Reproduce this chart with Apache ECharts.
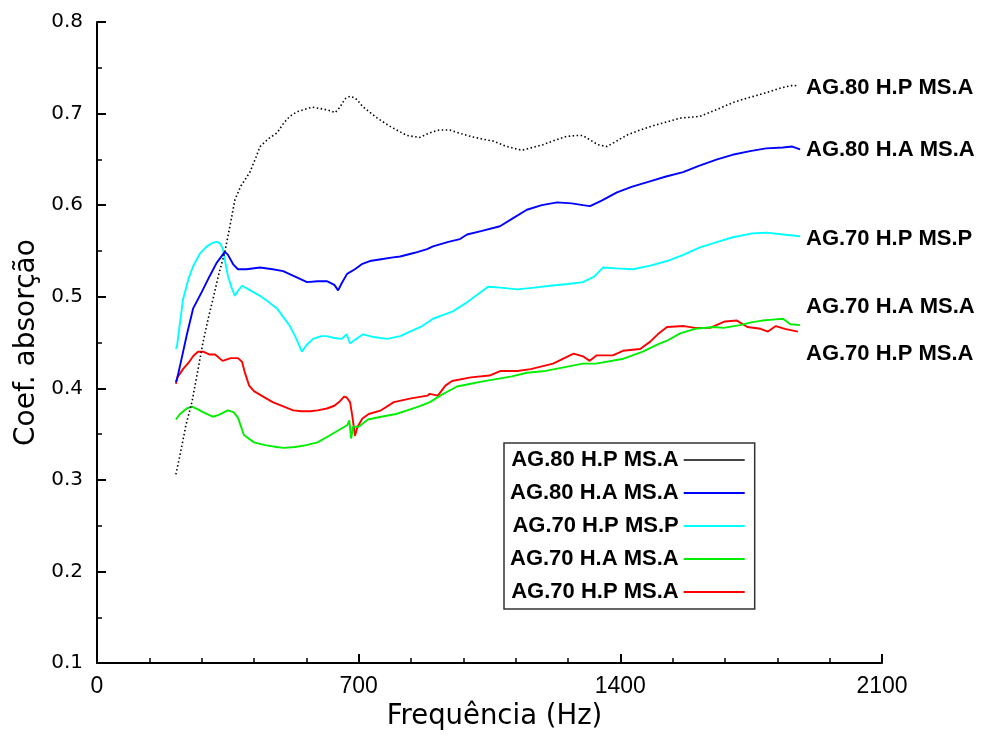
<!DOCTYPE html>
<html>
<head>
<meta charset="utf-8">
<title>Coef. absorção</title>
<script src="https://cdn.jsdelivr.net/npm/echarts@6/dist/echarts.min.js"></script>
<style>
  html, body { margin: 0; padding: 0; background: #fff; }
  #chart { width: 981px; height: 736px; }
</style>
</head>
<body>
<div id="chart"></div>
<script>
// Series names (legend and right-hand labels)
const seriesNames = ['AG.80 H.P MS.A', 'AG.80 H.A MS.A', 'AG.70 H.P MS.P', 'AG.70 H.A MS.A', 'AG.70 H.P MS.A'];
const seriesColors = ['#000000', '#0000ff', '#00ffff', '#00ee00', '#ff0000'];

// Axis ticks
const xTicks = [0, 700, 1400, 2100];
const yTicks = [0.1, 0.2, 0.3, 0.4, 0.5, 0.6, 0.7, 0.8];

// Measured absorption coefficient vs frequency: [Hz, coefficient]
const ag80HP_MSA = [
  [211,0.306],[222,0.327],[238,0.360],[254,0.385],[270,0.420],[284,0.451],[298,0.477],[310,0.497],
  [326,0.525],[342,0.549],[356,0.578],[369,0.606],[385,0.621],[409,0.636],[425,0.652],[436,0.664],
  [460,0.673],[482,0.679],[500,0.690],[516,0.697],[535,0.702],[551,0.704],[575,0.707],[605,0.705],
  [625,0.703],[637,0.701],[650,0.707],[663,0.716],[677,0.719],[690,0.717],[696,0.715],[710,0.708],
  [722,0.704],[750,0.695],[784,0.686],[811,0.680],[830,0.676],[864,0.674],[890,0.679],[915,0.682],
  [944,0.682],[975,0.678],[1000,0.675],[1033,0.672],[1060,0.670],[1090,0.665],[1115,0.662],[1137,0.660],
  [1165,0.663],[1193,0.666],[1225,0.671],[1255,0.675],[1280,0.676],[1300,0.676],[1320,0.671],[1340,0.666],
  [1364,0.664],[1390,0.670],[1420,0.677],[1453,0.682],[1490,0.687],[1525,0.691],[1560,0.695],[1613,0.697],
  [1650,0.703],[1701,0.712],[1740,0.717],[1792,0.723],[1830,0.728],[1862,0.731],[1875,0.730]
];
const ag80HA_MSA = [
  [211,0.407],[214,0.410],[225,0.430],[240,0.458],[257,0.487],[280,0.505],[302,0.523],[320,0.537],
  [342,0.549],[350,0.546],[365,0.535],[377,0.530],[400,0.530],[436,0.532],[470,0.530],[498,0.528],
  [530,0.522],[562,0.516],[590,0.517],[615,0.517],[635,0.513],[645,0.507],[655,0.515],[669,0.525],
  [690,0.530],[710,0.536],[730,0.539],[760,0.541],[792,0.543],[811,0.544],[850,0.548],[883,0.552],
  [899,0.555],[940,0.560],[971,0.563],[990,0.568],[1030,0.572],[1078,0.577],[1110,0.585],[1150,0.595],
  [1190,0.600],[1231,0.603],[1270,0.602],[1300,0.600],[1319,0.599],[1350,0.605],[1391,0.614],[1430,0.620],
  [1479,0.626],[1520,0.631],[1568,0.636],[1610,0.643],[1659,0.650],[1700,0.655],[1747,0.659],[1790,0.662],
  [1835,0.663],[1860,0.664],[1881,0.661]
];
const ag70HP_MSP = [
  [211,0.443],[214,0.446],[230,0.497],[245,0.520],[257,0.533],[275,0.547],[294,0.555],[310,0.559],
  [321,0.560],[330,0.558],[337,0.552],[343,0.538],[350,0.523],[360,0.510],[369,0.501],[378,0.507],
  [388,0.512],[410,0.507],[436,0.501],[460,0.494],[482,0.487],[500,0.477],[516,0.468],[530,0.457],
  [548,0.440],[560,0.447],[578,0.454],[600,0.457],[615,0.457],[635,0.455],[655,0.454],[668,0.459],
  [677,0.449],[690,0.453],[712,0.459],[740,0.456],[776,0.454],[811,0.457],[837,0.462],[870,0.468],
  [899,0.476],[925,0.480],[952,0.484],[990,0.494],[1020,0.503],[1046,0.511],[1080,0.510],[1124,0.508],
  [1170,0.510],[1212,0.512],[1260,0.514],[1300,0.516],[1330,0.522],[1354,0.532],[1390,0.531],[1434,0.530],
  [1480,0.534],[1525,0.539],[1570,0.546],[1613,0.554],[1660,0.560],[1701,0.565],[1750,0.569],[1792,0.570],
  [1835,0.568],[1881,0.566]
];
const ag70HA_MSA = [
  [211,0.366],[222,0.372],[240,0.378],[254,0.380],[270,0.377],[289,0.373],[310,0.369],[326,0.371],
  [350,0.376],[365,0.374],[377,0.368],[393,0.349],[420,0.341],[450,0.338],[480,0.336],[500,0.335],
  [530,0.336],[560,0.338],[590,0.341],[620,0.348],[645,0.354],[670,0.360],[675,0.365],[680,0.345],
  [685,0.358],[700,0.358],[725,0.366],[760,0.369],[800,0.372],[830,0.376],[860,0.380],[891,0.385],
  [918,0.392],[963,0.402],[1000,0.405],[1025,0.407],[1110,0.413],[1150,0.417],[1200,0.419],[1300,0.427],
  [1335,0.427],[1405,0.432],[1460,0.440],[1500,0.448],[1525,0.452],[1560,0.460],[1600,0.465],[1650,0.467],
  [1676,0.466],[1720,0.469],[1750,0.472],[1780,0.474],[1807,0.475],[1835,0.476],[1855,0.470],[1881,0.469]
];
const ag70HP_MSA = [
  [211,0.405],[215,0.412],[230,0.421],[245,0.428],[257,0.435],[270,0.440],[284,0.440],[300,0.437],
  [316,0.437],[336,0.430],[358,0.433],[377,0.433],[388,0.429],[395,0.418],[407,0.403],[420,0.397],
  [440,0.392],[470,0.385],[500,0.380],[525,0.376],[548,0.375],[570,0.375],[590,0.376],[615,0.378],
  [635,0.381],[650,0.386],[661,0.391],[668,0.390],[677,0.385],[683,0.370],[690,0.348],[697,0.358],
  [710,0.367],[727,0.372],[760,0.376],[794,0.385],[840,0.389],[884,0.392],[890,0.394],[912,0.392],
  [932,0.403],[950,0.408],[1000,0.412],[1050,0.414],[1080,0.419],[1125,0.419],[1160,0.421],[1220,0.427],
  [1275,0.438],[1300,0.435],[1318,0.430],[1337,0.436],[1380,0.436],[1407,0.441],[1453,0.443],[1480,0.451],
  [1500,0.459],[1525,0.467],[1570,0.468],[1600,0.466],[1640,0.466],[1680,0.473],[1712,0.474],[1740,0.467],
  [1775,0.465],[1795,0.462],[1816,0.468],[1840,0.465],[1875,0.462]
];
const seriesData = [ag80HP_MSA, ag80HA_MSA, ag70HP_MSP, ag70HA_MSA, ag70HP_MSA];

// Right-hand curve labels: vertical pixel position of each name
const sideLabelTop = [77, 139, 228, 296, 343];

const chart = echarts.init(document.getElementById('chart'), null, { renderer: 'canvas' });

const axisCommon = {
  axisLine: { show: true, onZero: false, lineStyle: { color: '#000', width: 2 } },
  axisTick: { show: true, inside: true, length: 9, lineStyle: { color: '#000', width: 2 } },
  splitLine: { show: false }
};

const series = seriesNames.map((name, i) => ({
  name: name,
  type: 'line',
  data: seriesData[i],
  symbol: 'none',
  smooth: false,
  animation: false,
  z: 5 - i,
  lineStyle: i === 0
    ? { color: seriesColors[i], width: 1.6, type: [1.5, 2.5] }
    : { color: seriesColors[i], width: 1.9 },
  itemStyle: { color: seriesColors[i] }
}));

// Legend swatches: thin solid bars in each series colour
const legendData = seriesNames.map((name, i) => ({
  name: name,
  icon: 'rect',
  itemStyle: { color: i === 0 ? '#444' : seriesColors[i], borderWidth: 0 }
}));

chart.setOption({
  backgroundColor: '#ffffff',
  animation: false,
  grid: { left: 97, right: 99, top: 22, bottom: 71, containLabel: false },
  xAxis: Object.assign({}, axisCommon, {
    type: 'value',
    min: xTicks[0],
    max: xTicks[xTicks.length - 1],
    interval: xTicks[1] - xTicks[0],
    minorTick: { show: true, splitNumber: 5, length: 5, lineStyle: { color: '#000', width: 1.5 } },
    axisLabel: {
      color: '#000', fontFamily: 'Liberation Sans', fontSize: 23, margin: 12,
      formatter: v => String(v)
    },
    name: 'Frequência (Hz)',
    nameLocation: 'middle',
    nameGap: 39,
    nameTextStyle: { color: '#000', fontFamily: 'DejaVu Sans', fontSize: 27.5, padding: [0, 0, 0, 10] }
  }),
  yAxis: Object.assign({}, axisCommon, {
    type: 'value',
    min: yTicks[0],
    max: yTicks[yTicks.length - 1],
    interval: 0.1,
    minorTick: { show: true, splitNumber: 2, length: 5, lineStyle: { color: '#000', width: 1.5 } },
    axisLabel: {
      color: '#000', fontFamily: 'DejaVu Sans', fontSize: 20, margin: 14,
      formatter: v => v.toFixed(1)
    },
    name: 'Coef. absorção',
    nameLocation: 'middle',
    nameGap: 56,
    nameTextStyle: { color: '#000', fontFamily: 'DejaVu Sans', fontSize: 28 }
  }),
  legend: {
    orient: 'vertical',
    left: 504,
    top: 443,
    align: 'right',
    data: legendData,
    itemWidth: 61,
    itemHeight: 2,
    itemGap: 11,
    padding: [6, 10, 6, 6],
    borderColor: '#333',
    borderWidth: 1.5,
    backgroundColor: '#fff',
    selectedMode: false,
    textStyle: { color: '#000', fontFamily: 'Liberation Sans', fontWeight: 'bold', fontSize: 22, lineHeight: 20 }
  },
  graphic: seriesNames.map((name, i) => ({
    type: 'text',
    left: 806,
    top: sideLabelTop[i],
    silent: true,
    style: {
      text: name,
      fill: '#000',
      font: 'bold 22px "Liberation Sans"'
    }
  })),
  series: series
});
</script>
</body>
</html>
